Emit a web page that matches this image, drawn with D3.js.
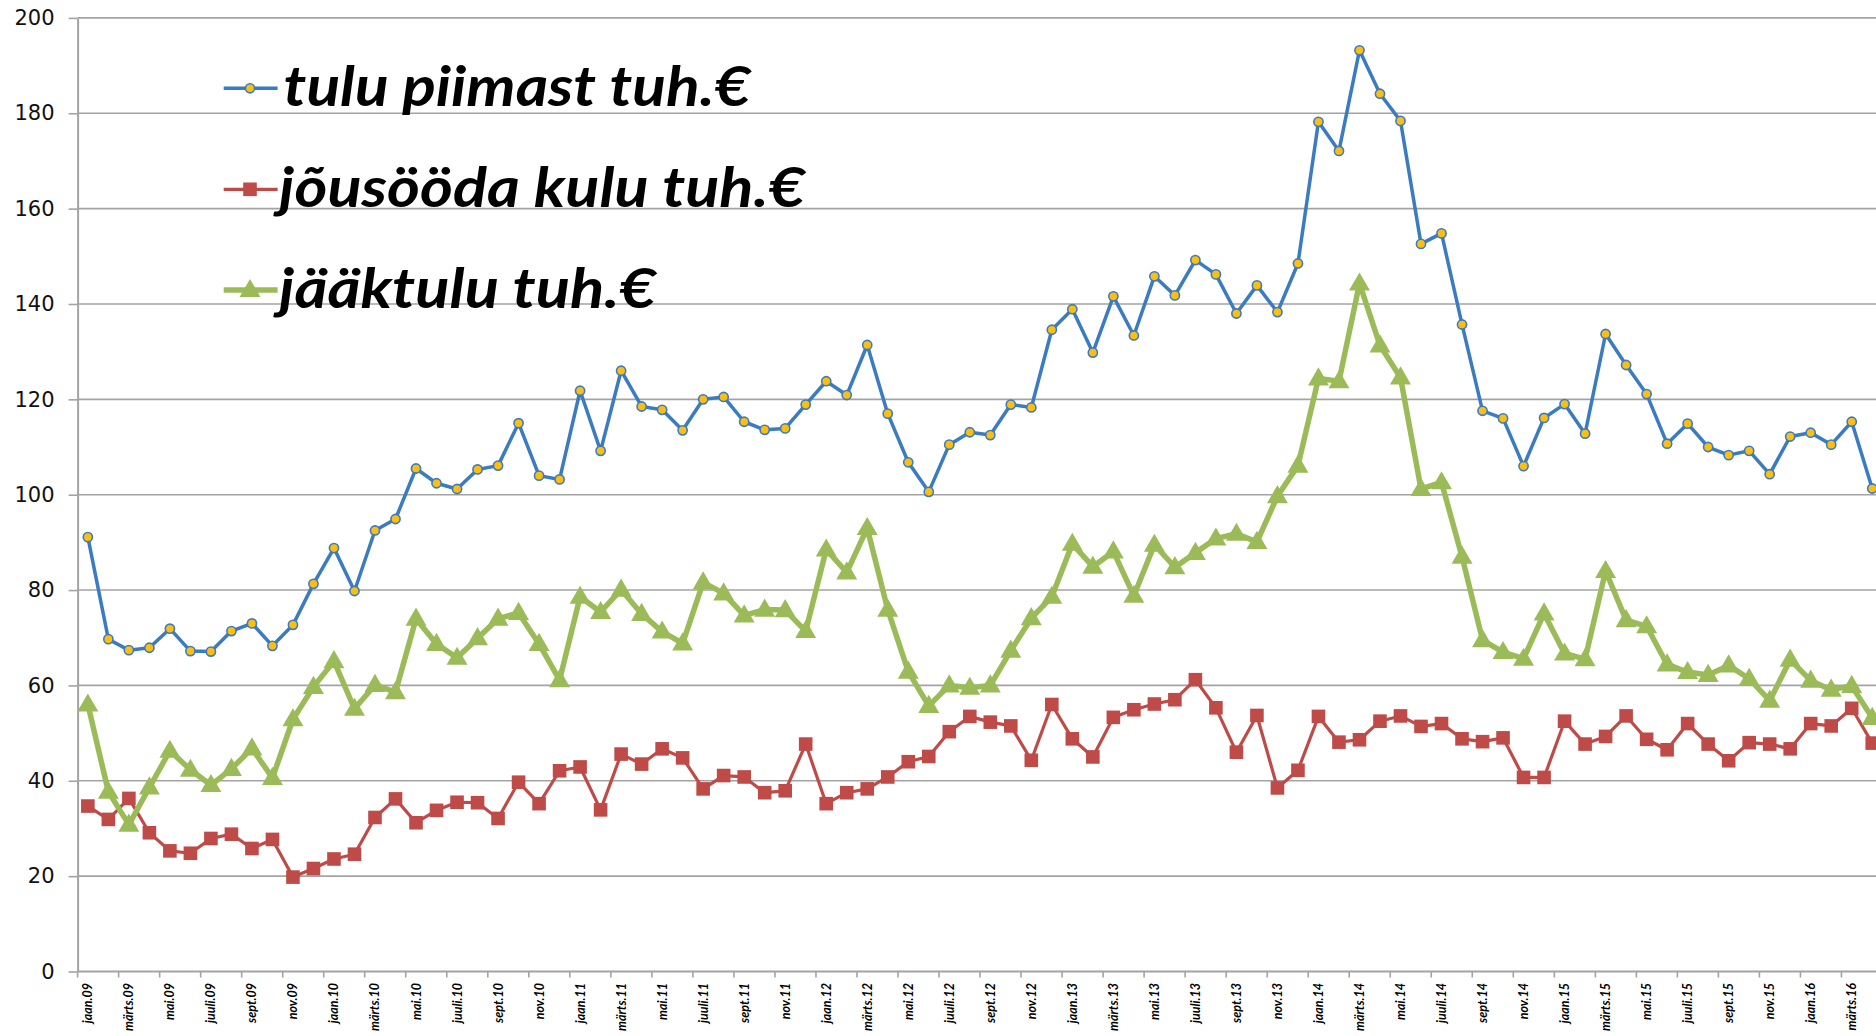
<!DOCTYPE html>
<html><head><meta charset="utf-8">
<script src="https://cdn.jsdelivr.net/npm/d3@7"></script>
<style>body{margin:0;background:#fff;overflow:hidden} svg{display:block}</style>
</head><body><svg id="c" width="1876" height="1036"></svg>
<script>
// ---- data ----
const monthNames = ["jaan","veebr","märts","apr","mai","juuni","juuli","aug","sept","okt","nov","dets"];
const years = ["09","10","11","12","13","14","15","16"];
const categories = years.flatMap(y => monthNames.map(m => m + "." + y)).slice(0, 88); // jaan.09 .. apr.16
const tickLabels = categories.filter((c, i) => i % 2 === 0);
const yTicks = [0, 20, 40, 60, 80, 100, 120, 140, 160, 180, 200];

const seriesNames = ["tulu piimast tuh.€", "jõusööda kulu tuh.€", "jääktulu tuh.€"];

const tulu = [91.1, 69.7, 67.4, 67.9, 71.9, 67.2, 67.1, 71.4, 73.0, 68.3, 72.7, 81.3,
  88.8, 79.8, 92.5, 94.9, 105.5, 102.4, 101.2, 105.3, 106.1, 115.0, 104.0, 103.2,
  121.8, 109.2, 126.0, 118.5, 117.8, 113.5, 120.0, 120.5, 115.3, 113.6, 113.9, 118.9,
  123.8, 120.9, 131.4, 117.0, 106.8, 100.6, 110.5, 113.1, 112.5, 118.9, 118.3, 134.6,
  138.9, 129.8, 141.6, 133.4, 145.8, 141.8, 149.2, 146.2, 138.0, 143.9, 138.3, 148.5,
  178.2, 172.1, 193.2, 184.1, 178.4, 152.6, 154.8, 135.7, 117.6, 116.0, 106.0, 116.1,
  119.0, 112.8, 133.7, 127.2, 121.1, 110.7, 114.9, 110.0, 108.3, 109.2, 104.3, 112.2,
  113.0, 110.5, 115.3, 101.3];

const kulu = [34.7, 31.9, 36.3, 29.1, 25.3, 24.8, 27.9, 28.8, 25.8, 27.7, 19.8, 21.6,
  23.6, 24.6, 32.3, 36.2, 31.2, 33.8, 35.5, 35.4, 32.1, 39.7, 35.2, 42.1,
  42.9, 33.9, 45.6, 43.5, 46.7, 44.8, 38.3, 41.1, 40.8, 37.5, 37.9, 47.7,
  35.2, 37.5, 38.3, 40.8, 44.0, 45.1, 50.3, 53.5, 52.3, 51.5, 44.3, 56.0,
  48.8, 45.0, 53.3, 54.9, 56.1, 57.0, 61.2, 55.3, 46.0, 53.7, 38.5, 42.2,
  53.5, 48.1, 48.6, 52.5, 53.6, 51.4, 52.0, 48.8, 48.2, 49.0, 40.7, 40.7,
  52.5, 47.7, 49.3, 53.6, 48.7, 46.5, 52.0, 47.7, 44.2, 48.0, 47.7, 46.7,
  52.0, 51.5, 55.2, 47.9];

const jaak = [56.0, 37.7, 30.8, 38.6, 46.3, 42.3, 39.1, 42.5, 46.8, 40.6, 52.9, 59.7,
  65.1, 55.1, 60.1, 58.6, 74.0, 68.7, 65.8, 69.9, 74.0, 75.2, 68.7, 61.1,
  78.6, 75.4, 80.1, 75.0, 71.3, 68.8, 81.6, 79.3, 74.7, 75.9, 75.8, 71.4,
  88.5, 83.7, 93.0, 75.9, 62.9, 55.7, 60.0, 59.5, 60.0, 67.3, 74.1, 78.6,
  89.7, 84.9, 88.1, 78.8, 89.5, 84.8, 87.8, 90.8, 91.8, 90.1, 99.7, 106.1,
  124.4, 123.8, 144.3, 131.3, 124.6, 101.2, 102.6, 87.0, 69.5, 67.0, 65.6, 75.1,
  66.7, 65.5, 84.0, 73.7, 72.4, 64.4, 62.8, 62.2, 64.2, 61.4, 56.8, 65.4,
  61.0, 59.1, 59.9, 53.2];

// ---- layout ----
const svg = d3.select("#c");
const x0 = 77.6, step = 20.51;
const x = d3.scaleBand().domain(categories).range([x0, x0 + categories.length * step]).padding(0);
const y = d3.scaleLinear().domain([0, 200]).range([971.5, 17.9]);
const cx = c => x(c) + x.bandwidth() / 2;

// gridlines
svg.append("g").selectAll("line").data(yTicks.filter(t => t > 0)).join("line")
  .attr("x1", x0).attr("x2", 1876)
  .attr("y1", d => y(d)).attr("y2", d => y(d))
  .attr("stroke", "#a3a3a3").attr("stroke-width", 1.6);

// y axis
const yAxis = svg.append("g").attr("transform", `translate(${x0},0)`)
  .call(d3.axisLeft(y).tickValues(yTicks).tickSize(9).tickPadding(14).tickSizeOuter(0));
yAxis.select(".domain").attr("stroke", "#a3a3a3").attr("stroke-width", 2);
yAxis.selectAll(".tick line").attr("stroke", "#a3a3a3").attr("stroke-width", 1.6);
yAxis.selectAll(".tick text").attr("font-family", "DejaVu Sans").attr("font-size", 21)
  .attr("fill", "#111");

// x axis
const xAxis = svg.append("g").attr("transform", `translate(0,${y(0)})`)
  .call(d3.axisBottom(x).tickValues(tickLabels).tickSize(0).tickSizeOuter(0));
xAxis.select(".domain").remove();
xAxis.append("line").attr("x1", x0).attr("x2", 1876).attr("y1", 0).attr("y2", 0)
  .attr("stroke", "#a3a3a3").attr("stroke-width", 2);
xAxis.selectAll(".tick text")
  .attr("transform", "rotate(-90)")
  .attr("x", -11.5).attr("y", 0).attr("dy", "0.36em")
  .style("text-anchor", "end")
  .attr("font-family", "Lato").attr("font-weight", "bold").attr("font-style", "italic")
  .attr("font-size", 12.5).attr("fill", "#000");
// boundary tick marks every 2 categories
xAxis.append("g").selectAll("line").data(tickLabels).join("line")
  .attr("x1", d => x(d)).attr("x2", d => x(d)).attr("y1", 0).attr("y2", 6)
  .attr("stroke", "#a3a3a3").attr("stroke-width", 1.6);

// ---- series ----
const line = d3.line().x((d, i) => cx(categories[i])).y(d => y(d));
const tri = d3.symbol().type(d3.symbolTriangle).size(190);

const styles = [
  { data: tulu, color: "#3b7bc0", width: 3.5, marker: "circle" },
  { data: kulu, color: "#be4b48", width: 3.2, marker: "square" },
  { data: jaak, color: "#9bbb59", width: 5.5, marker: "triangle" }
];

function drawMarker(g, marker, color, px, py) {
  if (marker === "circle") {
    g.append("circle").attr("cx", px).attr("cy", py).attr("r", 4.6)
      .attr("fill", "#fdbf0f").attr("stroke", color).attr("stroke-width", 1.6);
  } else if (marker === "square") {
    g.append("rect").attr("x", px - 6.8).attr("y", py - 6.8).attr("width", 13.6).attr("height", 13.6)
      .attr("fill", color);
  } else {
    g.append("path").attr("d", tri).attr("transform", `translate(${px},${py + 1})`).attr("fill", color);
  }
}

styles.forEach(s => {
  const g = svg.append("g");
  g.append("path").datum(s.data).attr("d", line).attr("fill", "none")
    .attr("stroke", s.color).attr("stroke-width", s.width).attr("stroke-linejoin", "round");
  s.data.forEach((v, i) => drawMarker(g, s.marker, s.color, cx(categories[i]), y(v)));
});

// ---- legend ----
const legRows = [88.3, 189.3, 290];
const legWidths = [467, 526, 377];
const legStart = [283.6, 279, 279];
styles.forEach((s, k) => {
  const g = svg.append("g");
  const ly = legRows[k];
  g.append("line").attr("x1", 223.7).attr("x2", 277.6).attr("y1", ly).attr("y2", ly)
    .attr("stroke", s.color).attr("stroke-width", s.width);
  drawMarker(g, s.marker, s.color, 250, ly);
  g.append("text").attr("x", legStart[k]).attr("y", ly + 18)
    .attr("font-family", "Lato").attr("font-weight", "bold").attr("font-style", "italic")
    .attr("font-size", 56).attr("fill", "#000")
    .attr("textLength", legWidths[k]).attr("lengthAdjust", "spacingAndGlyphs")
    .text(seriesNames[k]);
});
</script>
</body></html>
